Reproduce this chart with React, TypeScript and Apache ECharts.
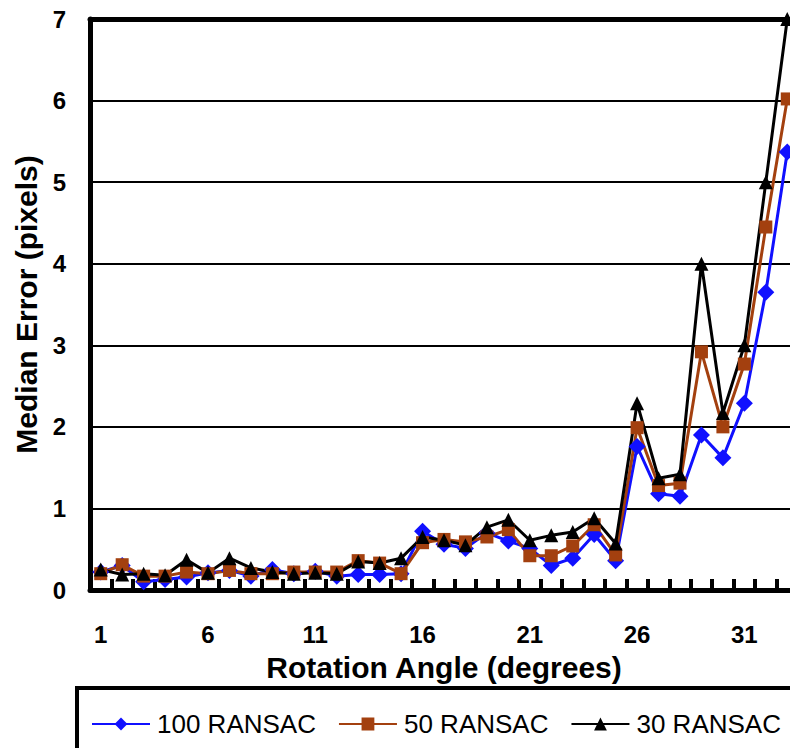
import React, { useEffect, useRef } from "react";
import * as echarts from "echarts";

const categories = Array.from({ length: 33 }, (_, i) => String(i + 1));
const ransac100 = [0.22, 0.3, 0.1, 0.13, 0.16, 0.21, 0.24, 0.17, 0.25, 0.2, 0.23, 0.17, 0.19, 0.19, 0.2, 0.72, 0.56, 0.51, 0.7, 0.6, 0.51, 0.3, 0.39, 0.68, 0.36, 1.76, 1.18, 1.15, 1.9, 1.62, 2.29, 3.65, 5.37];
const ransac50 = [0.2, 0.31, 0.17, 0.17, 0.22, 0.2, 0.24, 0.2, 0.2, 0.22, 0.22, 0.22, 0.36, 0.33, 0.2, 0.58, 0.62, 0.59, 0.65, 0.74, 0.42, 0.42, 0.54, 0.8, 0.43, 1.99, 1.28, 1.31, 2.92, 2.0, 2.77, 4.45, 6.02];
const ransac30 = [0.25, 0.19, 0.2, 0.18, 0.37, 0.21, 0.39, 0.27, 0.22, 0.2, 0.21, 0.2, 0.35, 0.33, 0.39, 0.65, 0.61, 0.55, 0.77, 0.86, 0.61, 0.67, 0.71, 0.88, 0.57, 2.29, 1.37, 1.42, 4.0, 2.17, 3.0, 5.0, 7.0];
const seriesNames = ["100 RANSAC", "50 RANSAC", "30 RANSAC"];

const FONT = "Liberation Sans, Arial, sans-serif";

export default function App() {
  const ref = useRef<HTMLDivElement>(null);
  useEffect(() => {
    if (!ref.current) return;
    const chart = echarts.init(ref.current, undefined, { renderer: "svg" });
    const mk = (name: string, data: number[], color: string, symbol: string, size: number) => ({
      name,
      type: "line",
      data,
      xAxisIndex: 0,
      symbol,
      symbolSize: size,
      showAllSymbol: true,
      lineStyle: { color, width: 3 },
      itemStyle: { color, borderWidth: 0 },
      z: 3,
    });
    chart.setOption({
      animation: false,
      backgroundColor: "#fff",
      textStyle: { fontFamily: FONT },
      grid: { left: 90, top: 19, bottom: 158, right: 12, containLabel: false, outerBoundsMode: "none" },
      legend: {
        data: seriesNames,
        left: 86,
        top: 706,
        itemWidth: 58,
        itemHeight: 16,
        itemGap: 22,
        textStyle: { fontSize: 26, color: "#000", fontFamily: FONT, padding: [0, 0, 0, 2] },
      },
      graphic: [
        {
          type: "rect",
          shape: { x: 77, y: 688, width: 760, height: 100 },
          style: { fill: "none", stroke: "#000", lineWidth: 4 },
        },
      ],
      xAxis: [
        {
          type: "category",
          data: categories,
          boundaryGap: true,
          position: "bottom",
          name: "Rotation Angle (degrees)",
          nameLocation: "middle",
          nameGap: 62,
          nameTextStyle: { fontSize: 30, fontWeight: "bold", color: "#000", fontFamily: FONT },
          axisLine: { show: true, onZero: false, lineStyle: { color: "#000", width: 5 } },
          axisTick: { show: true, inside: true, interval: 0, length: 11, lineStyle: { color: "#000", width: 4 } },
          axisLabel: { interval: 4, margin: 32, fontSize: 24, fontWeight: "bold", color: "#000", fontFamily: FONT },
          splitLine: { show: false },
        },
        {
          type: "category",
          data: categories,
          position: "top",
          axisLine: { show: true, onZero: false, lineStyle: { color: "#000", width: 5 } },
          axisTick: { show: false },
          axisLabel: { show: false },
          splitLine: { show: false },
        },
      ],
      yAxis: {
        type: "value",
        min: 0,
        max: 7,
        interval: 1,
        name: "Median Error (pixels)",
        nameLocation: "middle",
        nameGap: 47,
        nameTextStyle: { fontSize: 30, fontWeight: "bold", color: "#000", fontFamily: FONT },
        axisLine: { show: true, onZero: false, lineStyle: { color: "#000", width: 5 } },
        axisTick: { show: false },
        axisLabel: { margin: 24, fontSize: 24, fontWeight: "bold", color: "#000", fontFamily: FONT },
        splitLine: { show: true, lineStyle: { color: "#000", width: 2 } },
      },
      series: [
        mk(seriesNames[0], ransac100, "#1010ff", "diamond", 17),
        mk(seriesNames[1], ransac50, "#a3400f", "rect", 13),
        mk(seriesNames[2], ransac30, "#000000", "triangle", 14),
      ],
    });
    return () => chart.dispose();
  }, []);
  return (
    <div style={{ position: "fixed", left: 0, top: 0, width: 790, height: 748, overflow: "hidden", background: "#fff" }}>
      <div ref={ref} style={{ width: 810, height: 748 }} />
    </div>
  );
}
